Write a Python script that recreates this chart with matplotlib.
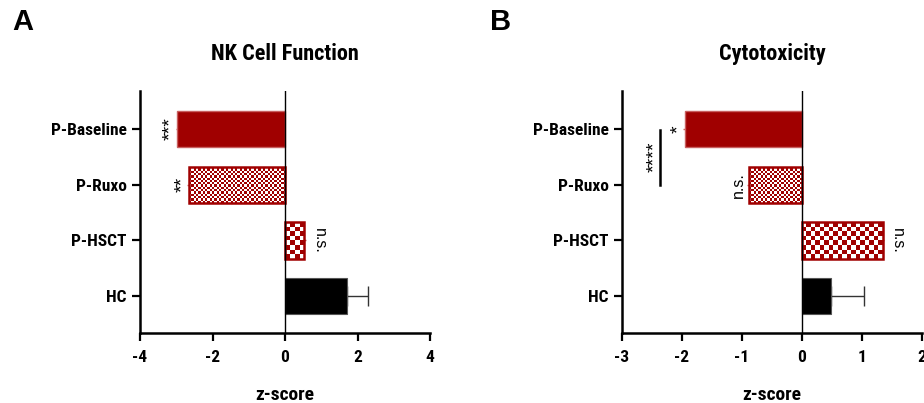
import numpy as np
import matplotlib.pyplot as plt
from matplotlib.colors import ListedColormap
from matplotlib import font_manager as fm


def first_bold(cands, fallback):
    # first candidate family that has a bold face installed
    for name in cands:
        for f in fm.fontManager.ttflist:
            w = f.weight if isinstance(f.weight, int) else {"bold": 700}.get(f.weight, 400)
            if f.name == name and w >= 600:
                return [name, fallback]
    return [fallback]


NARROW = first_bold(["Roboto Condensed", "Fira Sans Condensed", "IBM Plex Sans Condensed",
                     "Barlow Semi Condensed", "Archivo Narrow"], "DejaVu Sans")
WIDE = ["Liberation Sans", "DejaVu Sans"]

groups = ["HC", "P-HSCT", "P-Ruxo", "P-Baseline"]

nk_vals = [1.72, 0.53, -2.65, -2.98]
nk_err = [0.56, 0.05, 0.04, 0.03]
nk_sig = ["", "n.s.", "**", "***"]

cyto_vals = [0.48, 1.35, -0.88, -1.95]
cyto_err = [0.55, 0.02, 0.03, 0.03]
cyto_sig = ["", "n.s.", "n.s.", "*"]

RED = "#a00000"
EDGE_SOLID = "#c86060"
faces = ["black", "check_big", "check_small", RED]
cell_px = [None, 4.5, 2.3, None]

fig = plt.figure(figsize=(9.24, 4.03), dpi=100, facecolor="white")
ax_a = fig.add_axes([140 / 924, 1 - 333 / 403, 290 / 924, 242 / 403])
ax_b = fig.add_axes([622 / 924, 1 - 333 / 403, 300 / 924, 242 / 403])


def narrow(size):
    return dict(fontsize=size, fontweight="bold", family=NARROW, fontstretch="condensed")


def checker(ax, bar, cell):
    bb = bar.get_bbox()
    x0, x1 = sorted([bb.x0, bb.x1])
    y0, y1 = sorted([bb.y0, bb.y1])
    p0 = ax.transData.transform((x0, y0))
    p1 = ax.transData.transform((x1, y1))
    nx = max(1, int(round(abs(p1[0] - p0[0]) / cell)))
    ny = max(1, int(round(abs(p1[1] - p0[1]) / cell)))
    ii, jj = np.indices((ny, nx))
    pat = (ii + jj) % 2
    im = ax.imshow(pat, cmap=ListedColormap(["white", RED]), extent=(x0, x1, y0, y1),
                   aspect="auto", interpolation="nearest", zorder=2)
    im.set_clip_path(bar)


def panel(ax, vals, errs, sigs, xlim, xticks, title):
    ypos = np.arange(len(groups))
    ax.set_xlim(*xlim)
    ax.set_ylim(-0.66, 3.68)
    bars = ax.barh(ypos, vals, height=0.65, zorder=3)
    for b, face, cell in zip(bars, faces, cell_px):
        if face == "black":
            b.set_facecolor("black")
            b.set_edgecolor("#555555")
            b.set_linewidth(0.8)
        elif face == RED:
            b.set_facecolor(RED)
            b.set_edgecolor(EDGE_SOLID)
            b.set_linewidth(1.0)
        else:
            b.set_facecolor("none")
            b.set_edgecolor(RED)
            b.set_linewidth(1.8)
            checker(ax, b, cell)
    for y, v, e, face in zip(ypos, vals, errs, faces):
        col = "#333333" if face == "black" else "#d06060"
        xerr = [[0], [e]] if v >= 0 else [[e], [0]]
        ax.errorbar(v, y, xerr=xerr, fmt="none", ecolor=col, elinewidth=1.0,
                    capsize=7 if face == "black" else 0, capthick=1.0, zorder=2)
    for y, v, e, s in zip(ypos, vals, errs, sigs):
        if not s:
            continue
        end = v + e if v >= 0 else v - e
        if s == "n.s.":
            off, size = (9.5 if v >= 0 else -6.5), 11.5
        else:
            off, size = -3.5, 14
        rot = -90 if v >= 0 else 90
        ax.annotate(s, (end, y), xytext=(off, 0), textcoords="offset points",
                    ha="center", va="center", rotation=rot, fontsize=size,
                    family=WIDE, color="black")
    ax.axvline(0, color="black", lw=1.0, zorder=4)

    ax.set_yticks(ypos)
    ax.set_yticklabels(groups, **narrow(12.5))
    ax.set_xticks(xticks)
    ax.set_xticklabels([str(t) for t in xticks], **narrow(12.5))
    ax.tick_params(axis="both", direction="out", length=6, width=1.6, color="black")
    ax.tick_params(axis="x", pad=6)
    for side in ["top", "right"]:
        ax.spines[side].set_visible(False)
    for side in ["left", "bottom"]:
        ax.spines[side].set_linewidth(1.8)
    ax.set_xlabel("z-score", labelpad=15, **narrow(14))
    ax.set_title(title, pad=22, **narrow(16))


panel(ax_a, nk_vals, nk_err, nk_sig, (-4, 4), [-4, -2, 0, 2, 4], "NK Cell Function")
panel(ax_b, cyto_vals, cyto_err, cyto_sig, (-3, 2), [-3, -2, -1, 0, 1, 2], "Cytotoxicity")

# P-Baseline vs P-Ruxo comparison bracket in panel B
ax_b.plot([-2.37, -2.37], [2.0, 2.98], color="black", lw=1.8, zorder=4)
ax_b.annotate("****", (-2.37, 2.5), xytext=(-3.5, 0), textcoords="offset points",
              rotation=90, ha="center", va="center", fontsize=14, family=WIDE)

fig.text(12 / 924, 1 - 22 / 403, "A", fontsize=21, fontweight="bold", family=WIDE,
         ha="left", va="center")
fig.text(490 / 924, 1 - 22 / 403, "B", fontsize=21, fontweight="bold", family=WIDE,
         ha="left", va="center")

fig.savefig("out.png", dpi=100, facecolor="white")
